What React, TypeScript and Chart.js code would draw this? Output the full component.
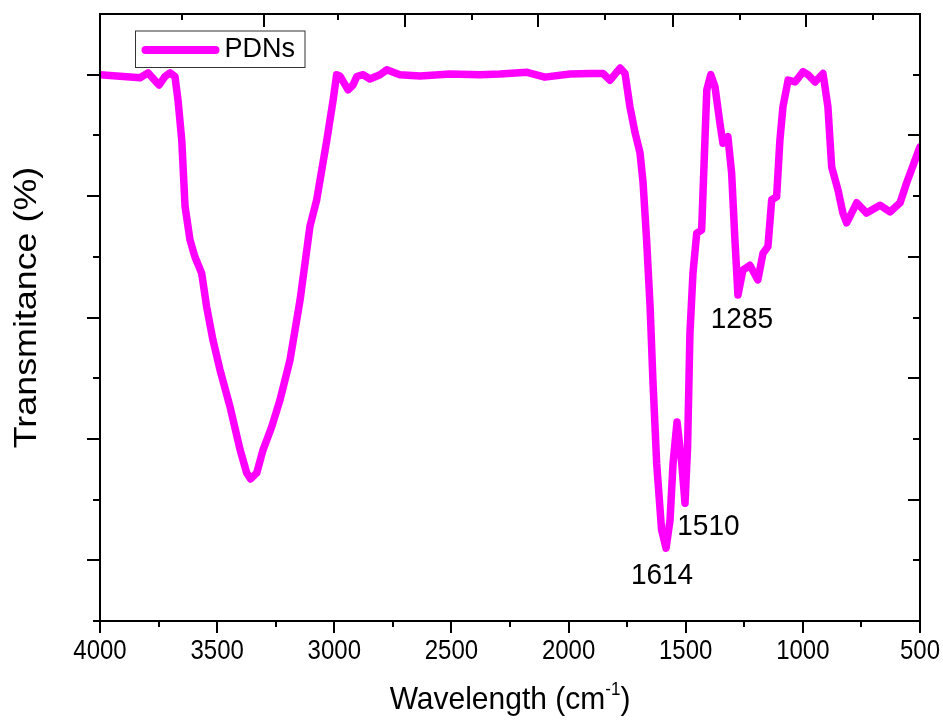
import React, { useEffect, useRef } from "react";
import { Chart, registerables } from "chart.js";

Chart.register(...registerables);

// ---- Data ----
const seriesLabel = "PDNs";
const wavenumbers = [
  4000, 3829, 3795, 3748, 3723, 3701, 3680, 3667, 3651, 3637, 3616, 3595, 3566, 3545, 3518,
  3488, 3445, 3402, 3374, 3357, 3331, 3304, 3267, 3232, 3189, 3146, 3104, 3075, 3032, 3005,
  2990, 2976, 2941, 2920, 2904, 2877, 2848, 2805, 2776, 2720, 2634, 2506, 2378, 2293, 2177,
  2101, 1994, 1909, 1853, 1823, 1780, 1759, 1738, 1716, 1695, 1682, 1667, 1652, 1640, 1624,
  1603, 1584, 1567, 1554, 1537, 1517, 1503, 1492, 1482, 1469, 1453, 1432, 1418, 1410, 1393,
  1375, 1354, 1341, 1320, 1304, 1290, 1277, 1256, 1226, 1192, 1170, 1149, 1133, 1112, 1098,
  1085, 1063, 1033, 999, 978, 948, 914, 893, 877, 850, 829, 813, 792, 770, 728,
  671, 628, 585, 557, 500,
];
const transmittance = [
  90.0, 89.5, 90.3, 88.3, 89.7, 90.3, 89.7, 85.8, 79.2, 68.3, 62.8, 60.0, 57.3, 51.8, 46.3,
  41.4, 35.3, 28.2, 24.4, 23.4, 24.4, 28.2, 32.0, 36.4, 43.0, 52.9, 65.0, 69.4, 79.2, 85.8,
  90.0, 89.8, 87.5, 88.3, 89.7, 90.0, 89.3, 90.0, 90.8, 90.0, 89.8, 90.1, 90.0, 90.1, 90.4,
  89.6, 90.1, 90.2, 90.2, 89.1, 91.1, 90.2, 84.7, 80.4, 77.1, 72.2, 62.8, 51.8, 39.7, 26.0,
  15.0, 12.0, 16.6, 26.0, 32.8, 26.0, 19.4, 28.7, 47.4, 57.3, 63.9, 64.4, 79.2, 87.5, 90.0,
  88.0, 82.0, 78.7, 79.8, 73.8, 62.8, 53.7, 57.8, 58.6, 56.2, 60.6, 61.7, 69.4, 69.9, 79.2,
  84.7, 89.1, 88.8, 90.5, 90.0, 88.8, 90.2, 84.7, 74.8, 71.0, 67.2, 65.6, 67.2, 68.9, 67.2,
  68.5, 67.4, 68.9, 72.2, 78.1,
];

// axis ticks
const xMajorTicks = [4000, 3500, 3000, 2500, 2000, 1500, 1000, 500];
const xMinorTicks = [3750, 3250, 2750, 2250, 1750, 1250, 750];
const topTicks = [3650, 3300, 2984, 2698, 2412, 2130, 1845, 1554, 1268, 987, 701];
const topTickMajor = [false, true, false, true, false, true, false, true, false, true, false];
const yMajorTicks = [90, 70, 50, 30, 10];
const yMinorTicks = [100, 80, 60, 40, 20, 0];
const rightLongTicks = [80, 60, 40, 20];
const rightShortTicks = [90, 70, 50, 30, 10];

// peak annotations
const peakLabels = ["1614", "1510", "1285"];
const peakLabelX = [1601, 1403, 1260];
const peakLabelY = [6.1, 14.2, 48.3];

const xTitle = "Wavelength (cm";
const xTitleSup = "-1";
const xTitleEnd = ")";
const yTitle = "Transmitance (%)";

const LINE_COLOR = "#FF00FF";
const FONT = "'Liberation Sans', Arial, sans-serif";

function drawText(
  ctx: CanvasRenderingContext2D,
  text: string,
  x: number,
  y: number,
  size: number,
  sy: number,
  align: CanvasTextAlign
) {
  ctx.save();
  ctx.translate(x, y);
  ctx.scale(1, sy);
  ctx.font = `${size}px ${FONT}`;
  ctx.textAlign = align;
  ctx.textBaseline = "alphabetic";
  ctx.fillStyle = "#000";
  ctx.fillText(text, 0, 0);
  ctx.restore();
}

const framePlugin = {
  id: "framePlugin",
  afterDraw(chart: any) {
    const ctx: CanvasRenderingContext2D = chart.ctx;
    const { left, right, top, bottom } = chart.chartArea;
    const xs = chart.scales.x;
    const ys = chart.scales.y;
    ctx.save();
    ctx.strokeStyle = "#000";
    ctx.lineWidth = 2;
    ctx.lineCap = "butt";
    // frame
    ctx.strokeRect(left, top, right - left, bottom - top);

    const line = (x1: number, y1: number, x2: number, y2: number) => {
      ctx.beginPath();
      ctx.moveTo(x1, y1);
      ctx.lineTo(x2, y2);
      ctx.stroke();
    };
    // bottom ticks (outward)
    xMajorTicks.forEach((v) => {
      const px = Math.round(xs.getPixelForValue(v));
      line(px, bottom, px, bottom + 12);
    });
    xMinorTicks.forEach((v) => {
      const px = Math.round(xs.getPixelForValue(v));
      line(px, bottom, px, bottom + 6);
    });
    // top ticks (inward)
    topTicks.forEach((v, i) => {
      const px = Math.round(xs.getPixelForValue(v));
      line(px, top, px, top + (topTickMajor[i] ? 13 : 6));
    });
    // left ticks (outward)
    yMajorTicks.forEach((v) => {
      const py = Math.round(ys.getPixelForValue(v));
      line(left - 13, py, left, py);
    });
    yMinorTicks.forEach((v) => {
      const py = Math.round(ys.getPixelForValue(v));
      if (py <= top + 1) return;
      line(left - 7, py, left, py);
    });
    // right ticks (inward)
    rightLongTicks.forEach((v) => {
      const py = Math.round(ys.getPixelForValue(v));
      line(right - 12, py, right, py);
    });
    rightShortTicks.forEach((v) => {
      const py = Math.round(ys.getPixelForValue(v));
      line(right - 7, py, right, py);
    });

    // x tick labels
    xMajorTicks.forEach((v) => {
      const px = xs.getPixelForValue(v);
      drawText(ctx, String(v), px, bottom + 38, 24, 1.13, "center");
    });

    // x title with superscript
    ctx.font = `30px ${FONT}`;
    const w1 = ctx.measureText(xTitle).width;
    const w3 = ctx.measureText(xTitleEnd).width;
    ctx.font = `17px ${FONT}`;
    const w2 = ctx.measureText(xTitleSup).width;
    const total = w1 + w2 + w3;
    const cx = (left + right) / 2;
    let sx = cx - total / 2;
    const base = bottom + 88;
    drawText(ctx, xTitle, sx, base, 30, 1.07, "left");
    sx += w1;
    drawText(ctx, xTitleSup, sx, base - 14, 17, 1.05, "left");
    sx += w2;
    drawText(ctx, xTitleEnd, sx, base, 30, 1.07, "left");

    // y title (rotated)
    ctx.save();
    ctx.translate(36, (top + bottom) / 2 - 10);
    ctx.rotate(-Math.PI / 2);
    ctx.scale(1.12, 1);
    ctx.font = `32px ${FONT}`;
    ctx.textAlign = "center";
    ctx.textBaseline = "alphabetic";
    ctx.fillStyle = "#000";
    ctx.fillText(yTitle, 0, 0);
    ctx.restore();

    // peak labels
    peakLabels.forEach((t, i) => {
      const px = xs.getPixelForValue(peakLabelX[i]);
      const py = ys.getPixelForValue(peakLabelY[i]);
      drawText(ctx, t, px, py, 28, 1.07, "center");
    });

    // legend
    const lx = left + 35.5;
    const ly = top + 17;
    ctx.lineWidth = 1;
    ctx.strokeStyle = "#333";
    ctx.strokeRect(lx, ly, 169.5, 36.5);
    ctx.strokeStyle = chart.data.datasets[0].borderColor;
    ctx.lineWidth = 8;
    ctx.lineCap = "round";
    line(lx + 10, ly + 19, lx + 80, ly + 19);
    drawText(ctx, chart.data.datasets[0].label, lx + 89, ly + 26, 27, 1.0, "left");

    ctx.restore();
  },
};

export default function App() {
  const canvasRef = useRef<HTMLCanvasElement | null>(null);

  useEffect(() => {
    if (!canvasRef.current) return;
    const chart = new Chart(canvasRef.current, {
      type: "line",
      data: {
        datasets: [
          {
            label: seriesLabel,
            data: wavenumbers.map((x, i) => ({ x, y: transmittance[i] })),
            borderColor: LINE_COLOR,
            backgroundColor: LINE_COLOR,
            borderWidth: 7.5,
            pointRadius: 0,
            tension: 0,
            borderJoinStyle: "round",
            borderCapStyle: "round",
            fill: false,
          },
        ],
      },
      options: {
        animation: false,
        responsive: true,
        maintainAspectRatio: false,
        layout: { padding: { top: 14, right: 23, left: 0, bottom: 0 } },
        plugins: {
          legend: { display: false },
          tooltip: { enabled: false },
        },
        scales: {
          x: {
            type: "linear",
            reverse: true,
            min: 500,
            max: 4000,
            grid: { display: false },
            border: { display: false },
            ticks: { display: false },
            afterFit: (s: any) => {
              s.height = 99;
            },
          },
          y: {
            type: "linear",
            min: 0,
            max: 100,
            grid: { display: false },
            border: { display: false },
            ticks: { display: false },
            afterFit: (s: any) => {
              s.width = 100;
            },
          },
        },
      },
      plugins: [framePlugin],
    });
    return () => chart.destroy();
  }, []);

  return (
    <div
      style={{
        position: "absolute",
        left: 0,
        top: 0,
        width: 943,
        height: 720,
        background: "#fff",
      }}
    >
      <canvas ref={canvasRef} />
    </div>
  );
}
